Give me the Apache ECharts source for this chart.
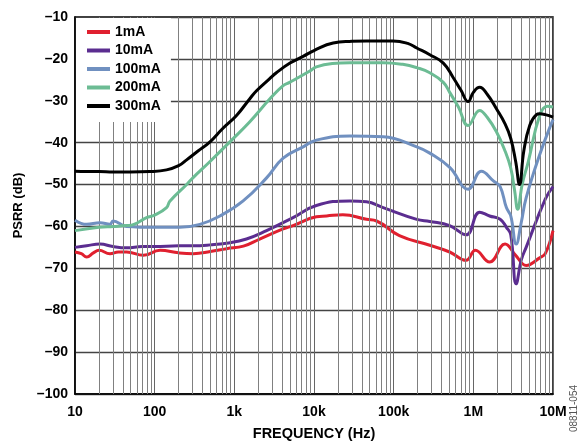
<!DOCTYPE html>
<html><head><meta charset="utf-8">
<script src="https://cdn.jsdelivr.net/npm/echarts@6/dist/echarts.min.js"></script>
<style>html,body{margin:0;padding:0;background:#fff}#c{width:582px;height:446px}</style>
</head><body><div id="c"></div>
<script>
const seriesNames = ['1mA','10mA','100mA','200mA','300mA'];
const seriesColors = ['#e0202f','#5b2d90','#7090c0','#6cbc94','#000000'];
const xTickLabels = {10:'10',100:'100',1000:'1k',10000:'10k',100000:'100k',1000000:'1M',10000000:'10M'};
const minorGrid = [20,30,40,50,60,70,80,90,200,300,400,500,600,700,800,900,2e3,3e3,4e3,5e3,6e3,7e3,8e3,9e3,2e4,3e4,4e4,5e4,6e4,7e4,8e4,9e4,2e5,3e5,4e5,5e5,6e5,7e5,8e5,9e5,2e6,3e6,4e6,5e6,6e6,7e6,8e6,9e6];

const data1mA = [[10,-66.1],[12,-66.5],[14,-67.3],[17,-66.3],[20,-65.7],[27.5,-66.5],[35,-66.1],[44.5,-66.1],[72,-66.9],[117,-65.7],[200,-66.3],[305,-66.5],[500,-66],[800,-65.3],[1300,-64.7],[2080,-63],[4100,-60.6],[5460,-59.8],[10700,-57.7],[14400,-57.5],[23000,-57.2],[45600,-58.3],[61000,-58.7],[118000,-62.2],[284000,-64.5],[505000,-66.1],[810000,-68.1],[1060000,-65.7],[1600000,-68.5],[2500000,-64.2],[3400000,-66.9],[4600000,-69.3],[6800000,-67.5],[8000000,-66.5],[10000000,-61]];
const data10mA = [[10,-65],[14,-64.6],[20.6,-64.2],[30,-64.8],[44.5,-65.1],[70,-64.8],[100,-64.8],[200,-64.6],[305,-64.6],[500,-64.4],[800,-64],[1420,-63],[2540,-61],[5460,-57.9],[10700,-55],[28200,-53.9],[45600,-54.1],[73700,-55.5],[195000,-58.3],[284000,-58.8],[505000,-59.8],[810000,-62],[1200000,-56.6],[1600000,-57.5],[2170000,-58.3],[2600000,-60.2],[2950000,-62],[3450000,-73.7],[4000000,-68],[4600000,-65],[8000000,-53.5],[10000000,-50.5]];
const data100mA = [[10,-58.5],[14,-59.5],[20.6,-59.1],[27.5,-59.5],[30,-58.7],[44.5,-60],[100,-60.2],[207,-60.2],[370,-59.5],[660,-57.5],[1290,-53.9],[2540,-48.4],[4100,-43.7],[7300,-41],[10700,-39.4],[28200,-38.4],[74000,-38.6],[195000,-41],[284000,-42.5],[505000,-45.9],[860000,-51.1],[1260000,-46.8],[1800000,-49.2],[2170000,-50.5],[2600000,-55.5],[2950000,-57.5],[3450000,-64.2],[4000000,-59],[4600000,-53.2],[6800000,-42.9],[10000000,-34.5]];
const data200mA = [[10,-61],[20,-60.2],[30,-60],[44.5,-59.8],[55,-59.5],[79,-57.9],[100,-57.3],[141,-55.5],[155,-54],[252,-50],[302,-48.4],[495,-44.5],[880,-39.8],[1565,-35],[2780,-29.6],[4100,-26.4],[4950,-25.6],[8860,-22.9],[10700,-21.9],[17000,-21.1],[28200,-20.9],[74000,-20.9],[130000,-21.3],[195000,-22.1],[284000,-23.3],[420000,-25.6],[505000,-28],[650000,-31.5],[860000,-35.9],[1200000,-32.3],[1500000,-34],[1950000,-37.4],[2500000,-42],[2950000,-46.1],[3300000,-51.5],[3600000,-55.9],[4100000,-50],[4900000,-44.5],[6800000,-33.5],[8500000,-31.3],[10000000,-31.5]];
const data300mA = [[10,-46.8],[14,-46.9],[20,-46.9],[30,-47.0],[50,-47.0],[87,-46.9],[141,-46.5],[200,-45.5],[252,-44.1],[350,-42.0],[495,-39.8],[700,-36.8],[1065,-33.5],[1565,-29.5],[1900,-27.6],[2780,-24.7],[3370,-23.3],[5000,-21.0],[7300,-19.4],[10000,-18.0],[17400,-16.2],[30000,-15.8],[45600,-15.7],[98000,-15.7],[150000,-16.3],[195000,-17.4],[284000,-19.0],[420000,-21.0],[560000,-24.5],[700000,-27.5],[860000,-30.2],[1000000,-28.0],[1200000,-26.8],[1500000,-28.5],[1950000,-31.9],[2500000,-35.5],[2950000,-39.0],[3400000,-44.5],[3800000,-50],[4300000,-42],[5100000,-35.9],[6200000,-33.3],[6800000,-33.1],[8000000,-33.3],[10000000,-33.9]];
const allData = [data1mA,data10mA,data100mA,data200mA,data300mA];

const dash = s => String(s).replace('-', '\u2013');
const chart = echarts.init(document.getElementById('c'));
const font = 'Liberation Sans, Arial, sans-serif';
const series = seriesNames.map((n,i)=>({
  name:n, type:'line', data:allData[i], showSymbol:false, smooth:0.45,
  lineStyle:{color:seriesColors[i], width:3}, itemStyle:{color:seriesColors[i]}, z:3+i
}));
series.unshift({
  name:'grid', type:'line', data:[], silent:true, z:1,
  markLine:{silent:true, symbol:'none', animation:false, label:{show:false},
    lineStyle:{color:'#808080', width:1, type:'solid'},
    data:minorGrid.map(v=>({xAxis:v}))}
});
chart.setOption({
  animation:false,
  grid:{left:75,right:29,top:17,bottom:48,show:true,borderColor:'#000',borderWidth:1.5,backgroundColor:'transparent'},
  legend:{data:seriesNames, orient:'vertical', left:76, top:18, padding:[7,10,9,11], itemGap:4.5,
    backgroundColor:'#fff', icon:'rect', itemWidth:23, itemHeight:4, z:10,
    textStyle:{fontFamily:font, fontWeight:'bold', fontSize:14, color:'#000'}},
  xAxis:{type:'log', logBase:10, min:10, max:1e7, name:'FREQUENCY (Hz)', nameLocation:'middle', nameGap:32,
    nameTextStyle:{fontFamily:font, fontWeight:'bold', fontSize:14.5, color:'#000'},
    axisLine:{lineStyle:{color:'#000',width:1.5}}, axisTick:{show:false},
    axisLabel:{margin:11, fontFamily:font, fontWeight:'bold', fontSize:14, color:'#000', formatter:v=>xTickLabels[Math.round(v)]||''},
    splitLine:{show:true, lineStyle:{color:'#666', width:1}}},
  yAxis:{type:'value', min:-100, max:-10, interval:10, name:'PSRR (dB)', nameLocation:'middle', nameGap:50,
    nameTextStyle:{fontFamily:font, fontWeight:'bold', fontSize:13, color:'#000'},
    axisLine:{show:true, lineStyle:{color:'#000',width:1.5}}, axisTick:{show:false},
    axisLabel:{margin:7, fontFamily:font, fontWeight:'bold', fontSize:14, color:'#000', formatter:v=>dash(v)},
    splitLine:{show:true, lineStyle:{color:'#444', width:1.3}}},
  graphic:[{type:'text', left:569, top:385, rotation:Math.PI/2,
    style:{text:'08811-054', fontFamily:font, fontSize:10, fill:'#555'}}],
  series:series
});
</script></body></html>
